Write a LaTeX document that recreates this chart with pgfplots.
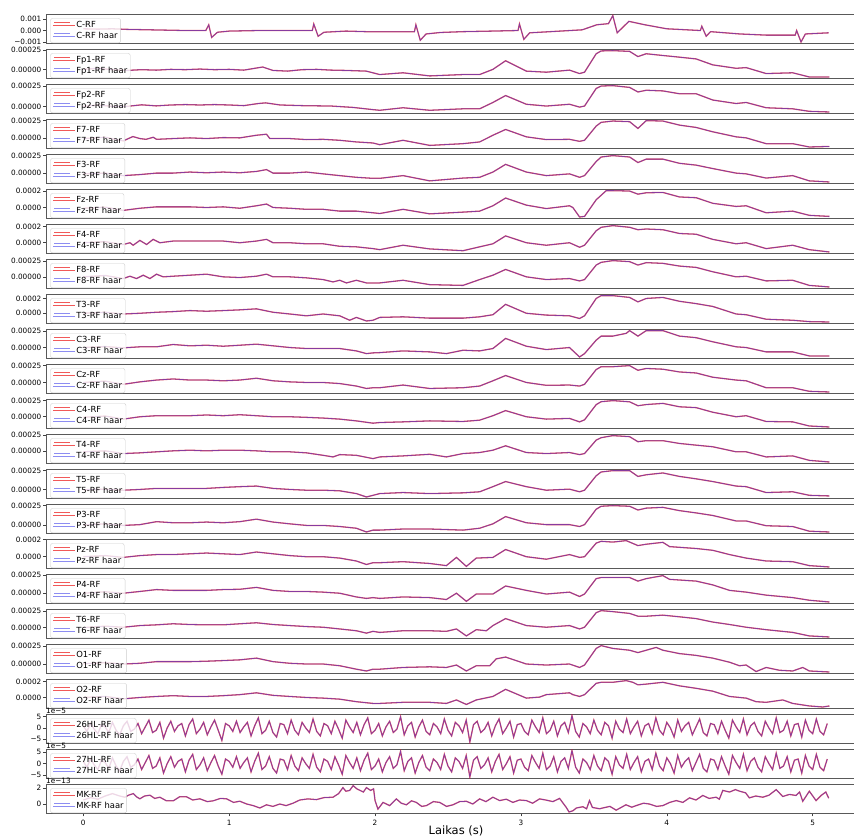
\documentclass[border=0pt]{standalone}
\usepackage{fontspec}
\setmainfont{DejaVu Sans}
\usepackage{pgfplots}
\usepackage{pgfplotstable}
\pgfplotsset{compat=1.18}
\definecolor{sred}{RGB}{235,20,20}
\definecolor{sblue}{RGB}{30,30,230}
\pgfplotsset{
  sr/.style={color=sred, opacity=0.7, line width=1.3pt},
  sb/.style={color=sblue, opacity=0.5, line width=0.8pt},
  panel/.style={
    scale only axis, width=820pt, height=29pt,
    xmin=-0.2555, xmax=5.3655,
    enlarge x limits=false, enlarge y limits=0.05,
    anchor=north west,
    xtick=\empty, ytick pos=left,
    tick align=outside, major tick length=3pt,
    tick style={black!75, line width=0.6pt},
    y tick label style={font=\fontsize{7.3}{8}\selectfont, inner xsep=1.5pt},
    axis line style={black!65, line width=0.7pt},
    legend cell align=left,
    legend image code/.code={\draw[##1] (1.3pt,2.7pt) -- (17.3pt,2.7pt); \path (0pt,0pt) -- (21.5pt,0pt);},
    legend style={at={(0,1)}, anchor=north west, xshift=4.3pt, yshift=-4pt,
      draw=black!20, rounded corners=2pt, fill=white, fill opacity=0.8, text opacity=1,
      font=\fontsize{8.4}{9}\selectfont, inner xsep=2pt, inner ysep=1.75pt, row sep=1.2pt, column sep=0pt,
      nodes={inner sep=1pt, text height=6.2pt, text depth=1.6pt}},
  }
}
\newcommand{\panelA}[3]{%
\begin{axis}[panel, at={(46pt,-#1pt)}, ytick={0,25}, yticklabels={0.00000,0.00025}]
\addplot[sr] table {#2};
\addplot[sb] table {#2};
\legend{#3,#3 haar}
\end{axis}}
\newcommand{\panelB}[3]{%
\begin{axis}[panel, at={(46pt,-#1pt)}, ytick={0,20}, yticklabels={0.0000,0.0002}]
\addplot[sr] table {#2};
\addplot[sb] table {#2};
\legend{#3,#3 haar}
\end{axis}}

% C-RF in units of 1e-3
\pgfplotstableread[row sep=\\]{t v\\
0 0.15\\0.1 0.12\\0.2 0.15\\0.3 0.1\\0.5 0.05\\0.7 0.0\\0.84 0.0\\0.86 0.5\\0.88 -0.6\\0.92 -0.15\\1.0 -0.05\\1.2 0.0\\1.4 0.0\\1.57 0.0\\1.58 0.57\\1.61 -0.5\\1.65 -0.15\\1.8 -0.05\\1.94 -0.1\\2.1 -0.1\\2.27 -0.1\\2.28 0.5\\2.31 -0.85\\2.35 -0.3\\2.45 -0.17\\2.6 -0.1\\2.8 -0.05\\2.98 0.0\\2.99 0.57\\3.02 -0.77\\3.06 -0.2\\3.2 -0.1\\3.42 0.06\\3.52 0.5\\3.6 0.6\\3.63 1.3\\3.66 -0.2\\3.74 0.8\\3.85 0.5\\4.0 0.15\\4.23 0.0\\4.24 0.37\\4.27 -0.5\\4.3 -0.1\\4.5 -0.3\\4.68 -0.4\\4.88 -0.4\\4.89 0.0\\4.92 -1.0\\4.95 -0.3\\5.11 -0.2\\
}\dC
% EEG channels in units of 1e-5
\pgfplotstableread[row sep=\\]{t v\\
0 0\\0.1 1.4\\0.2 -0.4\\0.3 -1.4\\0.4 -0.4\\0.5 -1.0\\0.6 0\\0.7 -0.4\\0.8 0.4\\0.9 -0.4\\1.0 0\\1.1 -1.0\\1.23 3.1\\1.3 -1.4\\1.4 -2.3\\1.5 -0.4\\1.6 0\\1.7 -1.0\\1.8 -1.4\\1.94 -2.3\\
2.032 -6.8\\2.192 -4.5\\2.375 -8.6\\2.603 -6.8\\2.717 -6.8\\2.808 0\\2.895 11.3\\3.037 -2.3\\3.174 -3.7\\3.333 -1.0\\3.402 -5.5\\3.436 -3.7\\3.516 20.5\\3.550 24.2\\3.630 24.6\\3.745 23.6\\3.802 16.8\\3.859 20.5\\3.973 18.2\\4.087 16.0\\4.201 13.7\\4.315 5.9\\4.475 1.4\\4.544 2.3\\4.681 -5.5\\4.863 -4.5\\4.977 -10\\5.115 -10\\
}\dFpa
\pgfplotstableread[row sep=\\]{t v\\
0 0\\0.1 1.7\\0.2 0\\0.3 0\\0.4 1.9\\0.5 0.6\\0.6 1.7\\0.7 2.2\\0.8 1.7\\0.9 2.2\\1.0 1.7\\1.1 0.9\\1.2 3.5\\1.25 4.3\\1.35 1.7\\1.5 0.9\\1.7 0.4\\1.85 -1.3\\1.98 -3.9\\
2.032 -4.8\\2.192 -1.7\\2.375 -4.8\\2.603 -3.0\\2.717 -3.0\\2.808 4.8\\2.895 13.3\\3.037 2.6\\3.174 0.4\\3.333 2.6\\3.402 -0.9\\3.436 0.4\\3.516 22\\3.550 25\\3.630 25.5\\3.745 23.3\\3.802 17.7\\3.859 19.8\\3.973 19\\4.087 15.5\\4.201 15.5\\4.315 7.8\\4.475 3.5\\4.544 4.8\\4.681 -1.7\\4.863 -3\\4.977 -6.1\\5.115 -6.9\\
}\dFpb
\pgfplotstableread[row sep=\\]{t v\\
0 -1\\0.15 0.9\\0.274 -4.4\\0.32 0\\0.34 1.9\\0.388 -1\\0.43 -2.1\\0.48 0.9\\0.502 -2.1\\0.616 -1\\0.731 0\\0.845 -1\\0.959 0.4\\1.073 0\\1.187 3.8\\1.256 5.3\\1.279 -1\\1.416 -1\\1.530 -2.5\\1.644 -2.1\\1.758 -3.5\\1.872 -5.9\\1.986 -7.4\\
2.032 -9.9\\2.192 -3.5\\2.375 -10.9\\2.603 -8.4\\2.717 -5.9\\2.808 3.8\\2.895 12.2\\3.037 1.5\\3.174 -2.5\\3.333 -2.1\\3.402 -5.0\\3.436 -3.5\\3.516 17.1\\3.550 22.5\\3.630 24.4\\3.745 23.5\\3.802 13.7\\3.859 25\\3.973 24.4\\4.087 18.5\\4.201 15.1\\4.315 8.8\\4.475 1.5\\4.544 0\\4.681 -8.4\\4.863 -8.4\\4.977 -13.2\\5.115 -12.4\\
}\dFs
\pgfplotstableread[row sep=\\]{t v\\
0 -1.1\\0.15 0\\0.274 -3.6\\0.388 -2.1\\0.502 0\\0.616 0\\0.731 1.5\\0.845 0.5\\0.959 1.5\\1.073 0.5\\1.187 2.4\\1.256 5\\1.301 0\\1.416 0\\1.530 1.5\\1.644 -1.1\\1.758 -3.6\\1.872 -6\\1.986 -7.5\\
2.032 -7.5\\2.192 -3.6\\2.375 -11.1\\2.603 -7.1\\2.717 -6.0\\2.808 1.5\\2.895 12.5\\3.037 1.5\\3.174 -3.6\\3.333 -1.1\\3.402 -6.0\\3.436 -3.6\\3.516 16.6\\3.550 23\\3.630 25\\3.745 23\\3.802 15.1\\3.859 20\\3.973 20\\4.087 14\\4.201 11.4\\4.315 6.5\\4.475 0\\4.544 -1.1\\4.681 -7.1\\4.863 -3.6\\4.977 -11.1\\5.115 -12.7\\
}\dFt
\pgfplotstableread[row sep=\\]{t v\\
0 -0.9\\0.15 0.4\\0.274 -3.5\\0.388 -0.9\\0.502 0.8\\0.616 0.8\\0.731 0.8\\0.845 0\\0.959 0.8\\1.073 -0.9\\1.187 2.1\\1.256 4.2\\1.301 0\\1.416 -0.9\\1.530 -2.2\\1.644 -2.2\\1.758 -4.4\\1.872 -4.4\\1.986 -6.4\\
2.032 -7.3\\2.192 -2.2\\2.375 -7.7\\2.603 -5.6\\2.717 -4.4\\2.808 2.1\\2.895 11.5\\3.037 2.9\\3.174 -1.3\\3.333 2.1\\3.356 0\\3.402 -11.5\\3.436 -10.8\\3.516 9.4\\3.585 20.5\\3.630 20.5\\3.745 20\\3.802 16.2\\3.859 17.9\\3.973 18.3\\4.087 12.8\\4.201 11.9\\4.315 5.1\\4.475 1.3\\4.544 2.1\\4.681 -6.4\\4.863 -4.4\\4.977 -9.5\\5.115 -10.8\\
}\dFz
\pgfplotstableread[row sep=\\]{t v\\
0 0\\0.15 1.3\\0.274 -2.2\\0.320 0\\0.342 -3.1\\0.388 2.9\\0.434 -2.2\\0.479 4.2\\0.525 0\\0.616 2.1\\0.731 2.1\\0.845 2.1\\0.959 2.1\\1.073 0\\1.187 2.1\\1.256 4.2\\1.301 0\\1.416 0\\1.530 -1.3\\1.644 -1.3\\1.758 -4.4\\1.872 -5.1\\1.986 -7.3\\
2.032 -8.6\\2.192 -3.1\\2.375 -7.7\\2.603 -9.9\\2.717 -5.1\\2.808 -1.3\\2.895 8.5\\3.037 0\\3.174 -3.1\\3.333 0\\3.402 -5.6\\3.436 -3.1\\3.516 14.9\\3.550 19.2\\3.630 21.3\\3.745 19.2\\3.802 16.2\\3.859 17.1\\3.973 16.2\\4.087 11.5\\4.201 10.6\\4.315 4.2\\4.475 -1.3\\4.544 0\\4.681 -7.3\\4.863 -3.1\\4.977 -8.6\\5.115 -11.5\\
}\dFf
\pgfplotstableread[row sep=\\]{t v\\
0 0\\0.15 2.1\\0.274 -2.7\\0.320 1\\0.365 -2.7\\0.411 2.6\\0.457 -2.7\\0.502 4.2\\0.548 0\\0.616 1\\0.731 2.6\\0.845 4.2\\0.959 0\\1.073 -1.1\\1.187 1\\1.256 4.2\\1.301 0\\1.416 0\\1.530 -1.6\\1.644 -4.3\\1.712 -8\\1.758 -5.4\\1.804 -9.6\\1.872 -5.4\\1.941 -9.6\\1.986 -9.6\\
2.032 -9.6\\2.192 -5.4\\2.375 -12.3\\2.603 -13.5\\2.717 -4.3\\2.808 2.6\\2.895 11.7\\3.037 0\\3.174 -4.3\\3.333 -2.7\\3.402 -6.4\\3.436 -4.3\\3.516 18.6\\3.550 22.9\\3.630 25.6\\3.745 24\\3.802 18.6\\3.859 22.4\\3.973 21.3\\4.087 17\\4.201 14.9\\4.315 8\\4.475 0\\4.544 1\\4.681 -6.4\\4.863 -5.4\\4.977 -13.5\\5.115 -16\\
}\dFe
\pgfplotstableread[row sep=\\]{t v\\
0 -0.4\\0.15 1\\0.274 -1.4\\0.388 -0.4\\0.502 1\\0.616 1.9\\0.731 3.3\\0.845 2.4\\0.959 3.3\\1.073 4.3\\1.187 5.7\\1.301 1\\1.416 -1.4\\1.530 -3.9\\1.644 -1.4\\1.758 -3.9\\1.826 -10\\1.872 -6.1\\1.941 -11\\1.986 -10\\
2.032 -6.1\\2.192 -5.3\\2.375 -7.1\\2.603 -7.1\\2.717 -5.3\\2.808 -2.4\\2.895 11.9\\3.037 -0.4\\3.174 -2.9\\3.333 -3.9\\3.402 -7.6\\3.436 -3.9\\3.516 20\\3.550 23.9\\3.630 23.9\\3.745 21.4\\3.802 15.3\\3.859 20\\3.973 21.4\\4.087 16.1\\4.201 12.9\\4.315 9\\4.475 -1.4\\4.544 -2.4\\4.681 -8.6\\4.863 -10\\4.977 -11.9\\5.115 -12.4\\
}\dTt
\pgfplotstableread[row sep=\\]{t v\\
0 0\\0.15 1.5\\0.274 -0.5\\0.388 1.1\\0.502 1.1\\0.616 4.6\\0.731 2.6\\0.845 3.5\\0.959 2\\1.073 3.5\\1.187 5.1\\1.301 2.6\\1.416 0\\1.530 -1.5\\1.644 -1.5\\1.758 -1.5\\1.872 -5.1\\1.941 -9.2\\1.986 -8.1\\
2.032 -7.7\\2.192 -5.1\\2.375 -6.6\\2.489 -9.2\\2.603 -4.1\\2.717 -5.1\\2.808 -1.5\\2.895 13.8\\3.037 2\\3.174 -3.1\\3.333 0\\3.402 -14.3\\3.436 -9.2\\3.516 11.2\\3.550 17.3\\3.630 17.3\\3.722 21.5\\3.745 25.6\\3.802 17.3\\3.859 25.6\\3.973 25.6\\4.087 17.3\\4.201 14.9\\4.315 8.7\\4.475 1.1\\4.544 0\\4.681 -6.6\\4.863 -6.6\\4.977 -12.7\\5.115 -12.7\\
}\dCt
\pgfplotstableread[row sep=\\]{t v\\
0 0\\0.15 2\\0.274 -2.7\\0.388 0.9\\0.502 3.6\\0.616 5.2\\0.731 3.6\\0.845 3.6\\0.959 2.5\\1.073 3.6\\1.187 6.3\\1.301 2.5\\1.416 0.9\\1.530 0\\1.644 0\\1.758 -1.6\\1.872 -5.3\\1.941 -8.9\\1.986 -7.8\\
2.032 -7.8\\2.192 -3.8\\2.375 -8.9\\2.603 -7.8\\2.717 -5.3\\2.808 2.5\\2.895 10.3\\3.037 0\\3.174 -4.2\\3.333 -3.8\\3.402 -5.3\\3.436 -2.7\\3.516 19.2\\3.550 23.4\\3.630 23.4\\3.745 25\\3.802 18.1\\3.859 20.8\\3.973 19.7\\4.087 15.6\\4.201 14.1\\4.315 7.8\\4.475 3.6\\4.544 2.5\\4.681 -7.8\\4.863 -7.8\\4.977 -13.1\\5.115 -14.1\\
}\dCz
\pgfplotstableread[row sep=\\]{t v\\
0 -0.9\\0.15 1.1\\0.274 -3.6\\0.388 0\\0.502 1.6\\0.616 1.6\\0.731 1.6\\0.845 2.7\\0.959 1.6\\1.073 3.1\\1.187 1.6\\1.301 0\\1.416 0\\1.530 -0.9\\1.644 -2\\1.758 -3.6\\1.872 -6.3\\1.986 -9.8\\
2.032 -8.8\\2.192 -7.8\\2.375 -6.3\\2.603 -7.2\\2.717 -5.2\\2.808 1.6\\2.895 9.4\\3.037 0\\3.174 -3.6\\3.333 -2.5\\3.402 -7.8\\3.436 -4.7\\3.516 18.5\\3.550 23.0\\3.630 24.6\\3.745 22.8\\3.802 16.8\\3.859 18.6\\3.973 20.4\\4.087 15.2\\4.201 13.9\\4.315 6.9\\4.475 0\\4.544 1.6\\4.681 -7.2\\4.863 -7.8\\4.977 -14.1\\5.115 -15.6\\
}\dCf
\pgfplotstableread[row sep=\\]{t v\\
0 -0.9\\0.15 0.6\\0.274 -3.6\\0.388 -2.5\\0.502 -0.9\\0.616 0.6\\0.731 1.6\\0.845 0.6\\0.959 1.6\\1.073 1.6\\1.187 0.6\\1.301 -0.9\\1.416 -0.9\\1.530 -2.5\\1.644 -6.3\\1.712 -8.8\\1.758 -5.2\\1.872 -6.3\\1.986 -11.4\\
2.032 -8.8\\2.192 -7.2\\2.375 -4.7\\2.489 -8.8\\2.603 -3.6\\2.717 -2\\2.808 1.6\\2.895 8.4\\3.037 -2\\3.174 -3.6\\3.333 -2\\3.402 -5.2\\3.436 -3.6\\3.516 17.2\\3.550 20.9\\3.630 24.1\\3.745 22.5\\3.802 14.7\\3.859 16.3\\3.973 16.3\\4.087 12\\4.201 9.4\\4.315 6.9\\4.475 -0.9\\4.544 -0.9\\4.681 -8.8\\4.863 -7.2\\4.977 -14.1\\5.115 -16.6\\
}\dTf
\pgfplotstableread[row sep=\\]{t v\\
0 -0.4\\0.15 0.4\\0.274 -1\\0.388 0\\0.502 1.4\\0.616 1.4\\0.731 1.4\\0.845 1.4\\0.959 2.7\\1.073 3.7\\1.187 4.5\\1.301 1.4\\1.416 0\\1.530 -1\\1.644 -1\\1.758 -1.8\\1.872 -5.5\\1.941 -10\\1.986 -7.8\\
2.032 -5.5\\2.192 -4.1\\2.375 -5.5\\2.603 -4.5\\2.717 -3.1\\2.808 3.7\\2.895 10.5\\3.037 3.7\\3.174 -1\\3.333 0.4\\3.402 -3.1\\3.436 -1\\3.516 18.2\\3.550 23.2\\3.630 25\\3.745 25\\3.802 17.3\\3.859 19.5\\3.973 21.9\\4.087 17.3\\4.201 14.1\\4.315 10.5\\4.475 4.5\\4.544 3.7\\4.681 -4.1\\4.863 -3.1\\4.977 -7.8\\5.115 -8.6\\
}\dTv
\pgfplotstableread[row sep=\\]{t v\\
0 0\\0.15 1.4\\0.274 -0.6\\0.388 0.4\\0.502 4.2\\0.616 2.8\\0.731 2.8\\0.845 3.7\\0.959 2.8\\1.073 4.2\\1.187 7.4\\1.301 3.7\\1.416 1.4\\1.530 -0.6\\1.644 -0.6\\1.758 -2\\1.872 -4.2\\1.941 -9\\1.986 -6.6\\
2.032 -6.6\\2.192 -5.2\\2.375 -5.2\\2.603 -6.6\\2.717 -4.2\\2.808 1.4\\2.895 10.7\\3.037 2.8\\3.174 0.4\\3.333 0.4\\3.402 -2\\3.436 0.4\\3.516 20.1\\3.550 23.9\\3.630 24.7\\3.745 23.9\\3.802 19.1\\3.859 21.5\\3.973 22.5\\4.087 18.3\\4.201 15.4\\4.315 12.1\\4.475 5.1\\4.544 5.1\\4.681 -1\\4.863 -2\\4.977 -8\\5.115 -9\\
}\dPt
\pgfplotstableread[row sep=\\]{t v\\
0 0\\0.15 1.3\\0.274 -0.8\\0.388 1.3\\0.502 2.5\\0.616 2.5\\0.731 3.4\\0.845 4.3\\0.959 3.4\\1.073 2.5\\1.187 5.5\\1.301 3.4\\1.416 1.3\\1.530 0\\1.644 0\\1.758 -1.6\\1.872 -5\\1.941 -9.1\\1.986 -7\\
2.032 -7\\2.192 -5.8\\2.375 -7.9\\2.489 -10.4\\2.558 -0.8\\2.626 -11.3\\2.694 -1.6\\2.808 -0.8\\2.895 8.4\\3.037 0\\3.174 -2.9\\3.333 2.5\\3.402 -0.8\\3.436 0\\3.516 15.9\\3.550 18\\3.630 17.1\\3.722 18.8\\3.802 13\\3.859 14.6\\3.973 16.8\\4.019 11.8\\4.201 9.6\\4.315 7.5\\4.430 2.5\\4.544 -1.6\\4.681 -5\\4.863 -5.8\\4.977 -10.4\\5.115 -12\\
}\dPz
\pgfplotstableread[row sep=\\]{t v\\
0 0\\0.15 2\\0.274 0\\0.388 2.4\\0.502 5\\0.616 3.9\\0.731 3.9\\0.845 3.9\\0.959 5\\1.073 5.4\\1.187 8\\1.301 3.9\\1.416 2.4\\1.530 2.4\\1.644 1.5\\1.758 0\\1.872 -5.1\\1.941 -7.1\\1.986 -6\\
2.032 -7.1\\2.192 -5.1\\2.375 -6\\2.489 -8.6\\2.558 0\\2.626 -11.1\\2.694 -1.1\\2.808 -1.1\\2.895 9.9\\3.037 3.9\\3.174 -1.1\\3.333 1.5\\3.402 -4.5\\3.436 -1.1\\3.516 20\\3.550 21.5\\3.630 21.5\\3.745 21.5\\3.802 16.6\\3.859 20\\3.973 24.1\\4.019 19\\4.201 16.6\\4.315 11.4\\4.430 3.9\\4.544 1.5\\4.681 -2.6\\4.863 -6\\4.977 -9.6\\5.115 -12\\
}\dPf
\pgfplotstableread[row sep=\\]{t v\\
0 0\\0.15 2.2\\0.274 0.6\\0.388 3.1\\0.502 4.2\\0.616 5.8\\0.731 4.7\\0.845 4.2\\0.959 4.2\\1.073 5.8\\1.187 7.3\\1.301 4.7\\1.416 3.1\\1.530 1.6\\1.644 0.6\\1.758 -2\\1.872 -4.7\\1.941 -8.3\\1.986 -5.6\\
2.032 -7.2\\2.192 -4.7\\2.375 -4.7\\2.489 -5.6\\2.558 -2\\2.626 -12.5\\2.694 -3.1\\2.763 -4.7\\2.808 3.1\\2.895 13.6\\3.037 3.1\\3.174 0.6\\3.333 3.1\\3.402 -2\\3.436 0.6\\3.516 22.5\\3.550 25.6\\3.630 24.1\\3.745 21.4\\3.802 17.2\\3.859 17.2\\3.973 18.8\\4.087 16.3\\4.201 13.6\\4.315 8.4\\4.430 4.7\\4.544 0.6\\4.681 -3.1\\4.863 -7.2\\4.977 -12.5\\5.115 -14.1\\
}\dTs
\pgfplotstableread[row sep=\\]{t v\\
0 0\\0.15 1.6\\0.274 -0.3\\0.388 0.7\\0.502 3\\0.616 3\\0.731 3\\0.845 3.6\\0.959 4.5\\1.073 5.5\\1.187 7.9\\1.301 3\\1.416 0.7\\1.530 -0.3\\1.644 -0.3\\1.758 -2.7\\1.872 -7.5\\1.941 -10\\1.986 -7.5\\
2.032 -7.5\\2.192 -5.1\\2.375 -4.2\\2.489 -5.1\\2.558 -1.7\\2.626 -10\\2.694 -2.7\\2.786 -2.7\\2.831 6.9\\2.895 9.4\\3.037 -0.3\\3.174 -1.7\\3.333 -0.3\\3.402 -5.1\\3.436 -1.7\\3.516 21.4\\3.550 25.3\\3.630 21.4\\3.745 18.9\\3.802 15.6\\3.859 18.9\\3.927 22.8\\3.973 18.9\\4.087 14.2\\4.201 11.7\\4.315 7.9\\4.430 2.2\\4.498 -2.7\\4.544 -1.7\\4.612 -10.8\\4.681 -5.1\\4.772 -9\\4.863 -10\\4.932 -5.1\\4.977 -10\\5.115 -11.4\\
}\dOa
\pgfplotstableread[row sep=\\]{t v\\
0 0\\0.15 1.3\\0.274 -1.7\\0.388 0\\0.502 1.3\\0.616 2.3\\0.731 1.3\\0.845 1.3\\0.959 2.3\\1.073 3.6\\1.187 5.9\\1.301 2.7\\1.416 1.3\\1.530 0\\1.644 -0.8\\1.758 -2.1\\1.872 -5.3\\1.986 -7.5\\
2.032 -7.5\\2.192 -6.1\\2.375 -6.1\\2.489 -7.5\\2.558 -3.1\\2.626 -8.8\\2.694 -3.1\\2.808 1.3\\2.895 10.3\\3.037 -0.8\\3.128 0.5\\3.174 3.6\\3.333 5.9\\3.356 3.6\\3.402 1.3\\3.436 3.6\\3.516 17.9\\3.550 19.2\\3.630 19.2\\3.722 21.3\\3.767 19.2\\3.802 16\\3.859 16.9\\3.973 19.2\\4.087 14.7\\4.201 11.6\\4.315 8\\4.430 1.3\\4.544 -0.8\\4.612 -5.3\\4.681 -6.1\\4.795 -3.1\\4.863 -7.5\\4.977 -10.7\\5.069 -12\\5.115 -10.7\\
}\dOb
% 26HL / 27HL in units of 1e-5
\pgfplotstableread[row sep=\\]{t h26 h27\\
0 1.0 1.0\\0.025 -1.5 -1.5\\0.05 2.0 2.0\\0.075 -0.5 -0.5\\0.1 -2.5 -2.5\\0.125 1.5 1.5\\0.15 0.5 0.5\\0.175 -2.0 -2.0\\0.2 2.5 2.5\\0.225 -1.0 -1.0\\
0.25 -3.0 -3.0\\0.275 1.0 1.0\\0.3 3.0 3.0\\0.325 -1.5 -1.5\\0.35 -0.5 -0.5\\0.375 2.0 2.0\\0.4 -2.5 -2.5\\0.425 0.5 0.5\\0.45 3.5 3.5\\0.475 -2.0 -2.0\\
0.5 -1.0 -1.0\\0.525 2.5 2.5\\0.55 -4.5 -4.0\\0.575 0.0 0.0\\0.6 3.0 3.0\\0.625 -1.5 -1.5\\0.65 1.0 1.0\\0.675 2.0 2.0\\0.7 -3.5 -3.5\\0.725 1.5 1.5\\
0.75 4.0 4.0\\0.775 -2.5 -2.5\\0.8 -0.5 -0.5\\0.825 2.5 2.5\\0.85 -3.0 -3.0\\0.875 0.5 0.5\\0.9 3.5 3.5\\0.925 -1.0 -1.0\\0.95 -5.5 -4.5\\0.975 2.0 2.0\\
1.0 1.0 1.0\\1.025 -1.5 -1.5\\1.05 3.0 3.0\\1.075 -2.0 -2.0\\1.1 0.5 0.5\\1.125 2.5 2.5\\1.15 -3.5 -3.5\\1.175 1.0 1.0\\1.2 4.5 4.5\\1.225 -2.5 -2.5\\
1.25 -1.0 -1.0\\1.275 3.0 3.0\\1.3 -2.0 -2.0\\1.325 -4.0 -4.0\\1.35 2.0 2.0\\1.375 1.5 1.5\\1.4 -2.5 -2.5\\1.425 3.5 3.5\\1.45 -1.0 -1.0\\1.475 -3.0 -3.0\\
1.5 2.5 2.5\\1.525 0.0 0.0\\1.55 -2.0 -2.0\\1.575 4.0 4.0\\1.6 -1.5 -1.5\\1.625 -3.5 -3.5\\1.65 2.0 2.0\\1.675 1.0 1.0\\1.7 -2.5 -2.5\\1.725 3.0 3.0\\
1.75 -0.5 -0.5\\1.775 -4.5 -4.5\\1.8 3.5 3.5\\1.825 0.5 0.5\\1.85 -2.0 -2.0\\1.875 2.5 2.5\\1.9 -3.0 -3.0\\1.925 1.5 1.5\\1.95 4.5 4.5\\1.975 -2.5 -2.5\\
2.0 -1.0 -1.0\\2.025 2.0 2.0\\2.05 -3.5 -3.5\\2.075 0.5 0.5\\2.1 3.0 3.0\\2.125 -2.0 -2.0\\2.15 -0.5 -0.5\\2.175 5.0 5.3\\2.2 -3.0 -3.0\\2.225 1.0 1.0\\
2.25 2.5 2.5\\2.275 -4.0 -4.0\\2.3 0.5 0.5\\2.325 3.5 3.5\\2.35 -1.5 -1.5\\2.375 -3.0 -3.0\\2.4 2.0 2.0\\2.425 0.5 0.5\\2.45 -2.5 -2.5\\2.475 4.0 4.0\\
2.5 -1.0 -1.0\\2.525 -3.5 -3.5\\2.55 2.5 2.5\\2.575 1.0 1.0\\2.6 -2.0 -2.0\\2.625 3.5 3.5\\2.65 -6.2 -5.7\\2.675 1.5 1.5\\2.7 3.0 3.0\\2.725 -2.0 -2.0\\
2.75 -0.5 -0.5\\2.775 2.5 2.5\\2.8 -3.5 -3.5\\2.825 1.0 1.0\\2.85 4.0 4.0\\2.875 -2.5 -2.5\\2.9 0.0 0.0\\2.925 3.0 3.0\\2.95 -4.0 -4.0\\2.975 1.5 1.5\\
3.0 2.0 2.0\\3.025 -1.5 -1.5\\3.05 -3.0 -3.0\\3.075 3.5 3.5\\3.1 0.5 0.5\\3.125 -2.0 -2.0\\3.15 4.5 4.5\\3.175 -2.5 -2.5\\3.2 -1.0 -1.0\\3.225 3.0 3.0\\
3.25 -3.5 -3.5\\3.275 1.0 1.0\\3.3 2.5 2.5\\3.325 -2.0 -2.0\\3.35 5.5 5.6\\3.375 -1.5 -1.5\\3.4 -4.0 -4.0\\3.425 2.0 2.0\\3.45 0.5 0.5\\3.475 -2.5 -2.5\\
3.5 3.5 3.5\\3.525 -1.0 -1.0\\3.55 -3.0 -3.0\\3.575 2.5 2.5\\3.6 1.0 1.0\\3.625 -4.5 -4.5\\3.65 3.0 3.0\\3.675 -0.5 -0.5\\3.7 -2.0 -2.0\\3.725 4.0 4.0\\
3.75 -2.5 -2.5\\3.775 0.5 0.5\\3.8 3.0 3.0\\3.825 -3.5 -3.5\\3.85 1.0 1.0\\3.875 2.0 2.0\\3.9 -2.5 -2.5\\3.925 4.5 4.5\\3.95 -1.0 -1.0\\3.975 -3.0 -3.0\\
4.0 2.5 2.5\\4.025 0.0 0.0\\4.05 -4.0 -4.0\\4.075 3.5 3.5\\4.1 -1.5 -1.5\\4.125 1.0 1.0\\4.15 2.5 2.5\\4.175 -3.0 -3.0\\4.2 0.5 0.5\\4.225 4.0 4.0\\
4.25 -2.0 -2.0\\4.275 -3.5 -3.5\\4.3 2.0 2.0\\4.325 1.5 1.5\\4.35 -2.5 -2.5\\4.375 3.0 3.0\\4.4 -1.0 -1.0\\4.425 -4.5 -4.5\\4.45 3.5 3.5\\4.475 0.5 0.5\\
4.5 -2.0 -2.0\\4.525 4.0 4.0\\4.55 -3.0 -3.0\\4.575 1.0 1.0\\4.6 2.5 2.5\\4.625 -1.5 -1.5\\4.65 -3.5 -3.5\\4.675 3.0 3.0\\4.7 0.0 0.0\\4.725 -2.5 -2.5\\
4.75 4.5 4.5\\4.775 -2.0 -2.0\\4.8 -1.0 -1.0\\4.825 3.0 3.0\\4.85 -3.5 -3.5\\4.875 1.5 1.5\\4.9 2.0 2.0\\4.925 -4.0 -4.0\\4.95 3.5 3.5\\4.975 -1.0 -1.0\\
5.0 -2.5 -2.5\\5.025 4.0 4.0\\5.05 -1.5 -1.5\\5.075 -3.0 -3.0\\5.1 2.0 2.0\\
}\dHL
% MK in units of 1e-13
\pgfplotstableread[row sep=\\]{t v\\
0 0.5\\0.05 0.8\\0.1 0.6\\0.15 1.0\\0.2 1.3\\0.25 1.0\\0.285 0.85\\0.31 1.1\\0.343 1.3\\0.365 0.9\\0.388 0.65\\0.42 1.0\\0.457 1.1\\0.49 0.7\\0.525 0.85\\0.57 0.4\\0.617 0.4\\0.66 0.9\\0.708 0.9\\0.75 0.5\\0.799 0.65\\0.85 0.3\\0.891 0.4\\0.94 0.7\\0.982 0.65\\1.03 0.2\\1.073 0.35\\1.12 0.0\\1.165 -0.2\\1.21 -0.5\\1.256 -0.1\\1.3 -0.3\\1.347 0.0\\1.39 -0.2\\1.438 0.1\\1.484 0.5\\1.54 0.64\\1.598 0.55\\1.65 0.8\\1.712 0.85\\1.75 1.3\\1.78 2.05\\1.8 1.6\\1.826 1.7\\1.85 2.3\\1.875 1.9\\1.92 1.5\\1.941 2.05\\1.97 1.7\\1.99 1.9\\2.0 0.43\\2.02 -0.64\\2.055 0.2\\2.1 -0.2\\2.146 0.64\\2.18 0.1\\2.215 -0.1\\2.25 0.4\\2.283 0.2\\2.32 -0.3\\2.352 -0.2\\2.4 0.3\\2.443 0.2\\2.49 -0.3\\2.534 -0.1\\2.58 0.3\\2.626 0.34\\2.67 0.0\\2.717 0.64\\2.76 0.3\\2.808 0.85\\2.854 0.43\\2.9 0.6\\2.945 0.2\\2.99 0.5\\3.037 0.43\\3.08 0.1\\3.128 0.64\\3.17 0.5\\3.219 0.3\\3.265 0.7\\3.311 -0.43\\3.33 -1.0\\3.356 -0.85\\3.38 -0.5\\3.425 -0.34\\3.45 -0.6\\3.47 0.43\\3.49 -0.43\\3.54 -0.6\\3.56 -0.5\\3.61 -0.3\\3.653 -0.77\\3.69 -0.4\\3.72 -0.1\\3.76 -0.4\\3.79 -0.2\\3.84 0.1\\3.88 0.0\\3.93 -0.3\\3.973 -0.2\\4.02 0.2\\4.065 0.43\\4.11 0.2\\4.156 0.77\\4.2 0.5\\4.247 1.07\\4.29 0.7\\4.338 0.85\\4.36 0.6\\4.384 1.7\\4.43 1.5\\4.47 1.8\\4.5 1.6\\4.54 1.4\\4.566 0.77\\4.61 1.0\\4.658 0.85\\4.7 1.1\\4.75 1.8\\4.795 0.94\\4.84 1.2\\4.886 1.07\\4.91 1.5\\4.932 0.34\\4.977 1.6\\5.023 0.43\\5.06 1.1\\5.09 1.5\\5.11 0.72\\
}\dMK

\begin{document}
\begin{tikzpicture}
\begin{axis}[panel, at={(46pt,-14.3pt)}, ytick={-1,0,1}, yticklabels={−0.001,0.000,0.001}]
\addplot[sr] table {\dC};
\addplot[sb] table {\dC};
\legend{C-RF,C-RF haar}
\end{axis}
\panelA{49.3}{\dFpa}{Fp1-RF}
\panelA{84.3}{\dFpb}{Fp2-RF}
\panelA{119.3}{\dFs}{F7-RF}
\panelA{154.3}{\dFt}{F3-RF}
\panelB{189.3}{\dFz}{Fz-RF}
\panelB{224.3}{\dFf}{F4-RF}
\panelA{259.3}{\dFe}{F8-RF}
\panelB{294.3}{\dTt}{T3-RF}
\panelA{329.3}{\dCt}{C3-RF}
\panelA{364.3}{\dCz}{Cz-RF}
\panelA{399.3}{\dCf}{C4-RF}
\panelA{434.3}{\dTf}{T4-RF}
\panelA{469.3}{\dTv}{T5-RF}
\panelA{504.3}{\dPt}{P3-RF}
\panelB{539.3}{\dPz}{Pz-RF}
\panelA{574.3}{\dPf}{P4-RF}
\panelA{609.3}{\dTs}{T6-RF}
\panelA{644.3}{\dOa}{O1-RF}
\panelB{679.3}{\dOb}{O2-RF}
\begin{axis}[panel, name=hla, at={(46pt,-714.3pt)}, ytick={-5,0,5}, yticklabels={−5,0,5}]
\addplot[sr] table[x=t,y=h26] {\dHL};
\addplot[sb] table[x=t,y=h26] {\dHL};
\legend{26HL-RF,26HL-RF haar}
\end{axis}
\node[anchor=south west, inner sep=0pt, font=\fontsize{7.3}{8}\selectfont] at ([yshift=0.8pt]hla.north west) {1e−5};
\begin{axis}[panel, name=hlb, at={(46pt,-749.3pt)}, ytick={-5,0,5}, yticklabels={−5,0,5}]
\addplot[sr] table[x=t,y=h27] {\dHL};
\addplot[sb] table[x=t,y=h27] {\dHL};
\legend{27HL-RF,27HL-RF haar}
\end{axis}
\node[anchor=south west, inner sep=0pt, font=\fontsize{7.3}{8}\selectfont] at ([yshift=0.8pt]hlb.north west) {1e−5};
\begin{axis}[panel, name=mk, at={(46pt,-784.3pt)}, ytick={0,2}, yticklabels={0,2},
  xtick={0,1,2,3,4,5}, xticklabels={0,1,2,3,4,5}, xtick pos=bottom,
  x tick label style={font=\fontsize{7.3}{8}\selectfont}]
\addplot[sr] table {\dMK};
\addplot[sb] table {\dMK};
\legend{MK-RF,MK-RF haar}
\end{axis}
\node[anchor=south west, inner sep=0pt, font=\fontsize{7.3}{8}\selectfont] at ([yshift=0.8pt]mk.north west) {1e−13};
\node[anchor=base, inner sep=0pt, font=\fontsize{11.5}{13}\selectfont] at ([yshift=-21.5pt]mk.south) {Laikas (s)};
\pgfresetboundingbox
\useasboundingbox (0pt,0pt) rectangle (854pt,-838pt);
\end{tikzpicture}
\end{document}
